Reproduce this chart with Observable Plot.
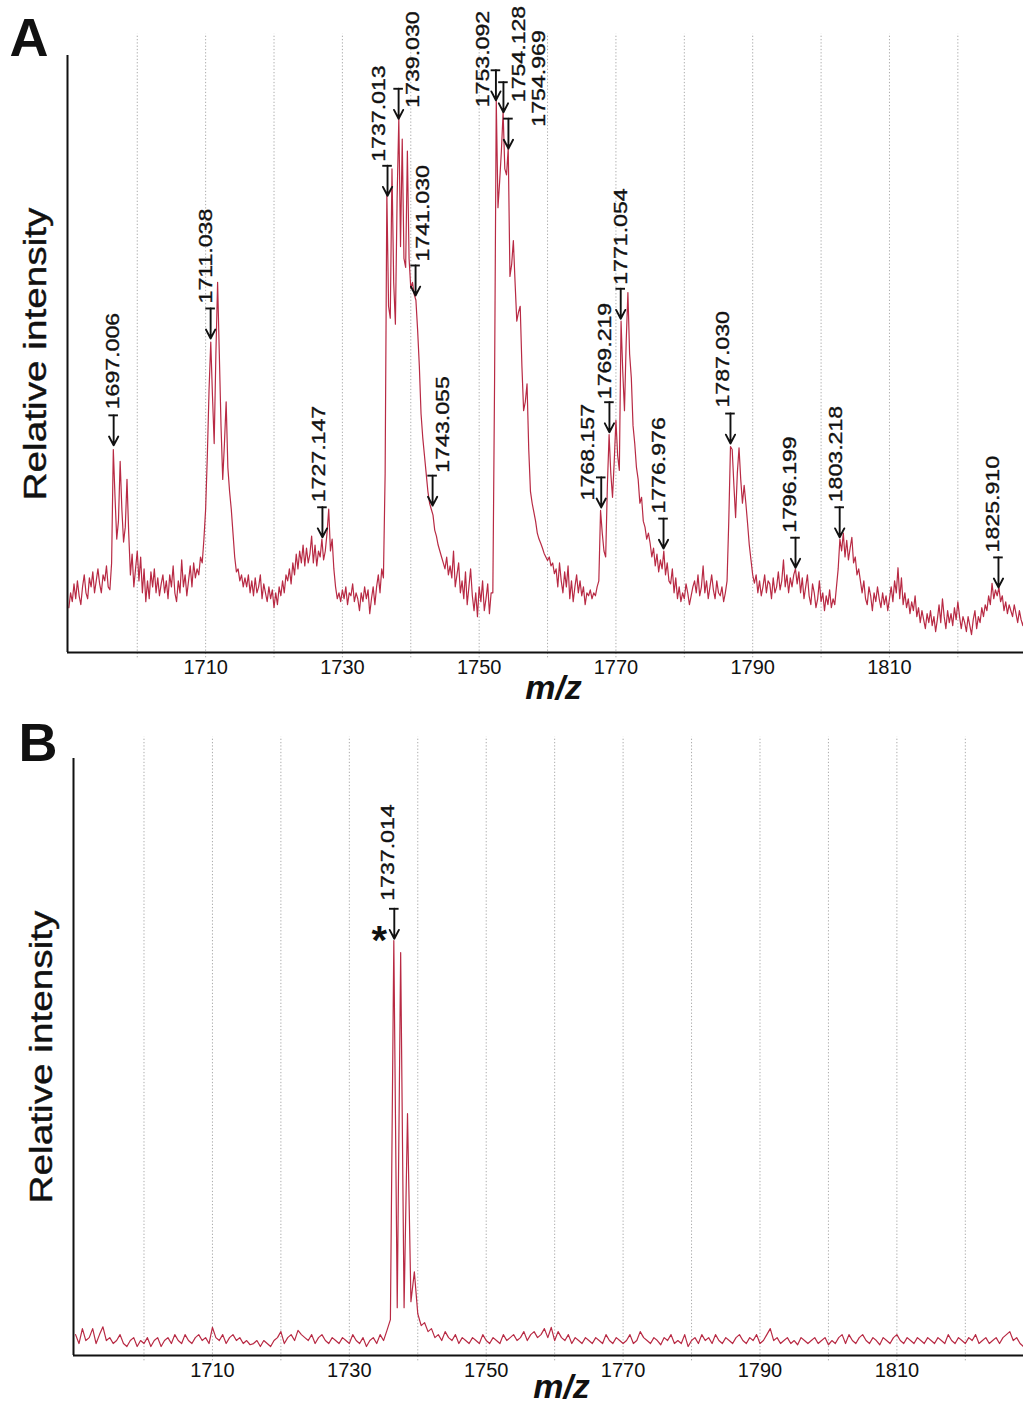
<!DOCTYPE html>
<html>
<head>
<meta charset="utf-8">
<script src="https://cdn.jsdelivr.net/npm/d3@7"></script>
<script src="https://cdn.jsdelivr.net/npm/@observablehq/plot@0.6"></script>
<style>
  body { margin: 0; background: #fff; }
  #chart { width: 1023px; }
  #chart svg { display: block; }
</style>
</head>
<body>
<div id="chart"></div>
<script>
// ---------------- DATA ----------------
const gridTicks = [1700, 1710, 1720, 1730, 1740, 1750, 1760, 1770, 1780, 1790, 1800, 1810, 1820];
const labelTicks = [1710, 1730, 1750, 1770, 1790, 1810];

// Panel A spectrum: each row = one m/z unit starting at startA, sampled every 0.25
const startA = 1690, stepA = 0.25;
const intensityA = [
  [7.5, 10, 8.5, 11.5], [9, 12, 9.5, 8], [11, 13, 10, 9], [12.5, 11, 13.5, 10], [12, 14, 11.5, 10],
  [13, 12, 14.5, 11], [10.5, 15, 34, 26], [19, 22, 32, 24], [18.5, 21, 29, 20], [13, 16.5, 11, 14],
  [17, 12, 16, 10], [14, 8.5, 12, 9], [13.5, 11, 14, 10], [12.5, 9.5, 11.5, 13], [10, 12, 9, 13],
  [11, 14.5, 10, 8.5], [12, 10, 15.5, 11], [13, 9.5, 12, 14.5], [11, 15, 12.5, 14], [13, 16, 15, 19],
  [24, 33, 44, 52], [43, 35, 50, 62], [50, 38, 29, 35], [42, 31, 27, 24], [20, 16, 13.5, 14],
  [12, 13, 11, 12.5], [11, 13, 10, 12], [9.5, 12.5, 10, 11], [13, 9, 11.5, 10], [8.5, 11, 9, 10.5],
  [7.5, 10, 8, 11], [9.5, 12, 10, 13], [12, 14, 11.5, 15], [13, 16.5, 14, 17], [15, 18, 14.5, 17.5],
  [15, 16.5, 19.5, 15], [18, 14.5, 17, 16], [19, 15.5, 17, 20], [24, 17, 19, 14], [11, 9, 10, 8.5],
  [10.5, 9, 11, 8], [10, 9.5, 11.5, 8.5], [10, 9, 7, 10], [8.5, 11, 9, 10.5], [6.5, 9, 11, 8],
  [11, 13, 10, 14], [12.5, 30, 77, 58], [56, 81, 62, 55], [76, 89.5, 68, 86], [66, 64.5, 84, 66],
  [61, 62, 60, 59], [54, 48, 40, 36], [33, 30, 27, 25], [24, 23, 20.5, 19.5], [18, 17, 16, 15],
  [14, 16, 13, 14.5], [12.5, 17, 11, 13], [15, 10, 12, 9], [13.5, 8, 11, 14], [9.5, 7, 10, 6],
  [11, 8.5, 12, 7], [9, 11.5, 6.5, 10], [10, 45, 92.5, 74.5], [79, 84, 90.5, 81], [80, 84.5, 63, 65],
  [69, 62, 55.5, 57], [58, 48, 40.5, 42], [45, 34, 27, 25], [23.5, 22, 20, 19], [18.3, 17.5, 16.6, 16],
  [15.4, 16, 14.5, 15], [13.2, 14, 11, 15], [12, 10, 13.5, 11], [14.5, 9, 12, 8.5], [11, 13, 10, 12],
  [9.5, 11, 8, 10], [9.5, 10.5, 9, 10], [9.5, 11, 12, 23.8], [20, 17, 16, 28], [36.5, 30, 26, 32],
  [38.9, 33, 30.5, 55.5], [47, 40.5, 52, 60.3], [50, 46, 38, 35], [31, 29, 25, 26], [22, 21, 19, 20],
  [18.3, 16, 17.5, 14.5], [16.5, 13.5, 15.5, 14], [17, 13, 15, 12], [11.5, 14, 10, 12.5], [9, 11, 8.5, 10],
  [9, 11.5, 10, 8], [9.5, 11, 12, 10], [13, 9.5, 11, 14.5], [10, 12, 9, 11], [13, 10.5, 9, 12],
  [10, 9.5, 11, 8.5], [10, 12, 22, 34.5], [34, 28, 22.6, 30], [34.3, 29, 25, 28], [25, 21.6, 18, 15.5],
  [13, 11.6, 13, 10], [12, 9.5, 11, 13], [10, 12, 11.5, 9], [12.5, 10, 11, 13.5], [10.5, 12, 15.5, 11],
  [13, 10, 12.5, 11], [13, 14, 11.5, 13.5], [10, 12.5, 9, 11], [13, 9.5, 8, 11.5], [10, 7.5, 9, 12],
  [8.5, 10, 7, 9.5], [8, 10.5, 7.5, 9], [8, 11, 14, 19], [17, 20, 16, 18.8], [15.5, 17.5, 19.3, 15],
  [16, 13, 14, 12], [10, 12, 9, 8], [11, 9.5, 7, 10], [8.5, 11, 9, 7.5], [10, 8, 9.5, 7],
  [9, 11, 8.5, 12], [10, 14.2, 9, 12.5], [8, 10, 7.5, 9], [6.5, 8.5, 7, 9.5], [6, 7.5, 5, 7],
  [5.5, 4, 6.5, 5], [7, 4.5, 6, 3.5], [5.5, 8, 5, 9], [6, 4, 7, 5], [6.5, 4.5, 7.5, 5.5],
  [8.5, 6, 4, 6], [5, 3.5, 6, 4.5], [3, 5.5, 7, 4], [6, 5, 7.5, 6], [8, 7, 9.5, 8],
  [11.6, 9, 10.5, 9.5], [10.9, 8.5, 9.5, 7], [8.5, 6.5, 8, 7], [6, 8, 6.5, 5], [7, 5.5, 4.5, 6]
];

// Panel B spectrum: each row = one m/z unit starting at startB, sampled every 0.5
const startB = 1690, stepB = 0.5;
const intensityB = [
  [3.5, 2], [4.5, 2.5], [3, 4.5], [2, 3.5], [4.8, 2.5], [3, 2], [2.5, 3.5], [2, 1.5], [2.5, 3], [1.5, 2.5],
  [2, 3], [1.5, 2.5], [3, 1.5], [2.5, 3], [2, 3.5], [2.5, 2], [3.5, 2.5], [2, 3], [3.5, 2.5], [3, 2],
  [4.7, 3], [2.5, 3.5], [2, 3], [3.5, 2.5], [3, 2], [2.5, 1.8], [2, 2.5], [1.5, 2.5], [2, 1.5], [2.5, 3],
  [4, 2], [3, 3.5], [2.5, 4.2], [3.5, 3], [2.5, 3.5], [2, 3], [3.5, 2.5], [2, 3], [2.5, 2], [3, 2.5],
  [2, 3.5], [2.5, 2], [3, 1.5], [2.5, 3], [2, 3.5], [2.5, 4.2], [6, 69.5], [8, 67.5], [8, 40.5], [9, 14],
  [7, 5], [5.5, 4], [4.5, 3], [3.5, 2.5], [4, 3], [2.5, 3.5], [2, 3], [2.5, 2], [3, 2.5], [2, 3.5],
  [2.5, 2], [3, 2.5], [2, 3.5], [2.5, 3], [3.5, 2.5], [3, 4], [2.5, 3.5], [4, 3], [3.5, 4.5], [3, 4.7],
  [2.5, 4], [3, 2.5], [3.5, 2], [3, 2.5], [2, 3], [2.5, 2], [3, 2.5], [2, 3.5], [2.5, 2], [3, 2.5],
  [2, 2.5], [3.5, 2], [2.5, 4], [3, 2.5], [2, 3], [2.5, 1.8], [3, 2.5], [3.5, 2], [2.5, 2], [3.5, 1.5],
  [2.5, 3], [2, 3.5], [2.5, 3], [2, 3.5], [2.5, 2], [3, 2.5], [2, 3], [3.5, 2.5], [2, 3], [2.5, 3.5],
  [2, 2.5], [3.5, 4.5], [2.5, 3], [2, 2.5], [3, 2], [2.5, 1.8], [3, 2.5], [2, 2.5], [3, 2], [2.5, 3],
  [1.8, 2.5], [2, 3], [3.5, 2], [3.5, 2.5], [2, 3], [3.5, 2.5], [2, 3], [2.5, 1.8], [3, 2.5], [2, 3],
  [3.5, 2.5], [2, 3], [2.5, 2], [3, 2.5], [2, 3], [2.5, 2], [3, 2.5], [2, 3.5], [2.5, 2], [3, 2.5],
  [2, 3], [2.5, 3.5], [2, 2.5], [3, 2], [2.5, 3], [2, 3], [3.5, 4], [2.5, 3], [2, 1.5]
];

// Peak annotations (label text, m/z position on the picture, intensity at arrow tip)
const peakLabelsA = ["1697.006", "1711.038", "1727.147", "1737.013", "1739.030", "1741.030", "1743.055",
  "1753.092", "1754.128", "1754.969", "1768.157", "1769.219", "1771.054", "1776.976", "1787.030",
  "1796.199", "1803.218", "1825.910"];
const peakMzA = [1696.55, 1710.73, 1727.08, 1736.6, 1738.22, 1740.7, 1743.19, 1752.45, 1753.55, 1754.28,
  1767.85, 1769.05, 1770.7, 1776.96, 1786.75, 1796.26, 1802.72, 1825.94];
const peakTipA = [34.7, 52.6, 19.3, 76.5, 89.4, 59.8, 24.6, 92.5, 90.5, 84.4, 24.3, 36.9, 55.9, 17.4, 35,
  14.2, 19.3, 10.9];

const peakLabelsB = ["1737.014"];
const peakMzB = [1736.57];
const peakTipB = [69.8];

// ---------------- LAYOUT (label placement, px) ----------------
// dx: horizontal shift of label text; dt: label bottom relative to the arrow's top bar
const labelLayoutA = [
  [-1, -6], [-5, -5], [-3, -5], [-8, -4], [14, 19], [8, -4], [10, -3],
  [-13, 37], [16, 20], [31, 8], [-13, 23], [-4, -3], [0, -4], [-4, -5], [-7, -6],
  [-5, -5], [-4, -5], [-5, -5]
];
const labelLayoutB = [[-6, -8]];

// ---------------- BUILD ----------------
function toSpectrum(rows, start, step) {
  const out = [];
  rows.forEach((row, r) => row.forEach((v, j) => out.push({mz: start + r + j * step, i: v})));
  return out;
}
const specA = toSpectrum(intensityA, startA, stepA);
const specB = toSpectrum(intensityB, startB, stepB);

const annA = peakLabelsA.map((label, k) => ({label, mz: peakMzA[k], tip: peakTipA[k], dx: labelLayoutA[k][0], dt: labelLayoutA[k][1]}));
const annB = peakLabelsB.map((label, k) => ({label, mz: peakMzB[k], tip: peakTipB[k], dx: labelLayoutB[k][0], dt: labelLayoutB[k][1]}));

const FONT = "'Liberation Sans', Arial, Helvetica, sans-serif";
const INK = "#111";
const FRAME_H = 597;
const ARROW_LEN = 30 * 100 / FRAME_H; // 30px in intensity units

function panel(cfg) {
  const {spec, ann, letter, domain, marginLeft, marginTop, marginBottom, height, letterDx, letterDy, mzDx, mzDy, star} = cfg;
  const marks = [
    Plot.ruleX(gridTicks, {y1: -0.9, y2: 103.6, stroke: "#ababab", strokeWidth: 1, strokeDasharray: "1.3,2"}),
    Plot.line(spec, {x: "mz", y: "i", stroke: "#b82a44", strokeWidth: 1.2, clip: true}),
    Plot.ruleX([domain[0]], {y1: 0, y2: 100, stroke: INK, strokeWidth: 2}),
    Plot.ruleY([0], {stroke: INK, strokeWidth: 2}),
    Plot.axisX(labelTicks, {tickSize: 0, tickPadding: 7, fontSize: 20, tickFormat: d => String(d), label: null, fill: INK}),
    // arrows
    Plot.ruleY(ann, {y: d => d.tip + ARROW_LEN, x1: d => d.mz - 0.7, x2: d => d.mz + 0.7, stroke: INK, strokeWidth: 1.9}),
    Plot.arrow(ann, {x1: "mz", x2: "mz", y1: d => d.tip + ARROW_LEN, y2: "tip", stroke: INK, strokeWidth: 1.9, headLength: 8, headAngle: 55}),
    // labels
    ...ann.map(a => Plot.text([a], {x: "mz", y: d => d.tip + ARROW_LEN, text: "label", rotate: -90,
      textAnchor: "start", lineAnchor: "middle", fontSize: 18.5, dx: a.dx, dy: a.dt, fill: INK,
      stroke: INK, strokeWidth: 0.35})),
    Plot.text(["Relative intensity"], {text: d => d, frameAnchor: "left", rotate: -90, dx: -31, fontSize: 31,
      textAnchor: "middle", lineAnchor: "middle", fill: INK, stroke: INK, strokeWidth: 0.4}),
    Plot.text(["m/z"], {text: d => d, frameAnchor: "bottom", dx: mzDx, dy: mzDy, fontSize: 34, fontStyle: "italic",
      fontWeight: "bold", lineAnchor: "bottom", fill: INK}),
    Plot.text([letter], {text: d => d, frameAnchor: "top-left", dx: letterDx, dy: letterDy, fontSize: 54,
      fontWeight: "bold", textAnchor: "start", lineAnchor: "top", fill: INK})
  ];
  if (star) {
    marks.push(Plot.text(ann, {x: "mz", y: "tip", text: () => "*", fontSize: 40, fontWeight: "bold",
      dx: -15, dy: 2, fill: INK}));
  }
  const svg = Plot.plot({
    width: 1023, height, marginTop, marginBottom, marginLeft, marginRight: 0,
    x: {domain},
    y: {domain: [0, 100], axis: null},
    style: {fontFamily: FONT, background: "#fff", color: INK, overflow: "visible"},
    marks
  });
  // vertically stretched rotated lettering, as in the original figure
  d3.select(svg).selectAll("text").each(function () {
    const t = this.getAttribute("transform");
    if (t && t.includes("rotate(-90)")) this.setAttribute("transform", t + " scale(1.25,1)");
  });
  return svg;
}

const chart = document.getElementById("chart");
chart.appendChild(panel({
  spec: specA, ann: annA, letter: "A", domain: [1689.8, 1829.6],
  marginLeft: 67, marginTop: 55, marginBottom: 53, height: 705,
  letterDx: -58, letterDy: -38, mzDx: 8, mzDy: 46, star: false
}));
chart.appendChild(panel({
  spec: specB, ann: annB, letter: "B", domain: [1689.7, 1828.5],
  marginLeft: 73, marginTop: 53, marginBottom: 51, height: 701,
  letterDx: -55, letterDy: -36, mzDx: 13, mzDy: 42, star: true
}));
</script>
</body>
</html>
